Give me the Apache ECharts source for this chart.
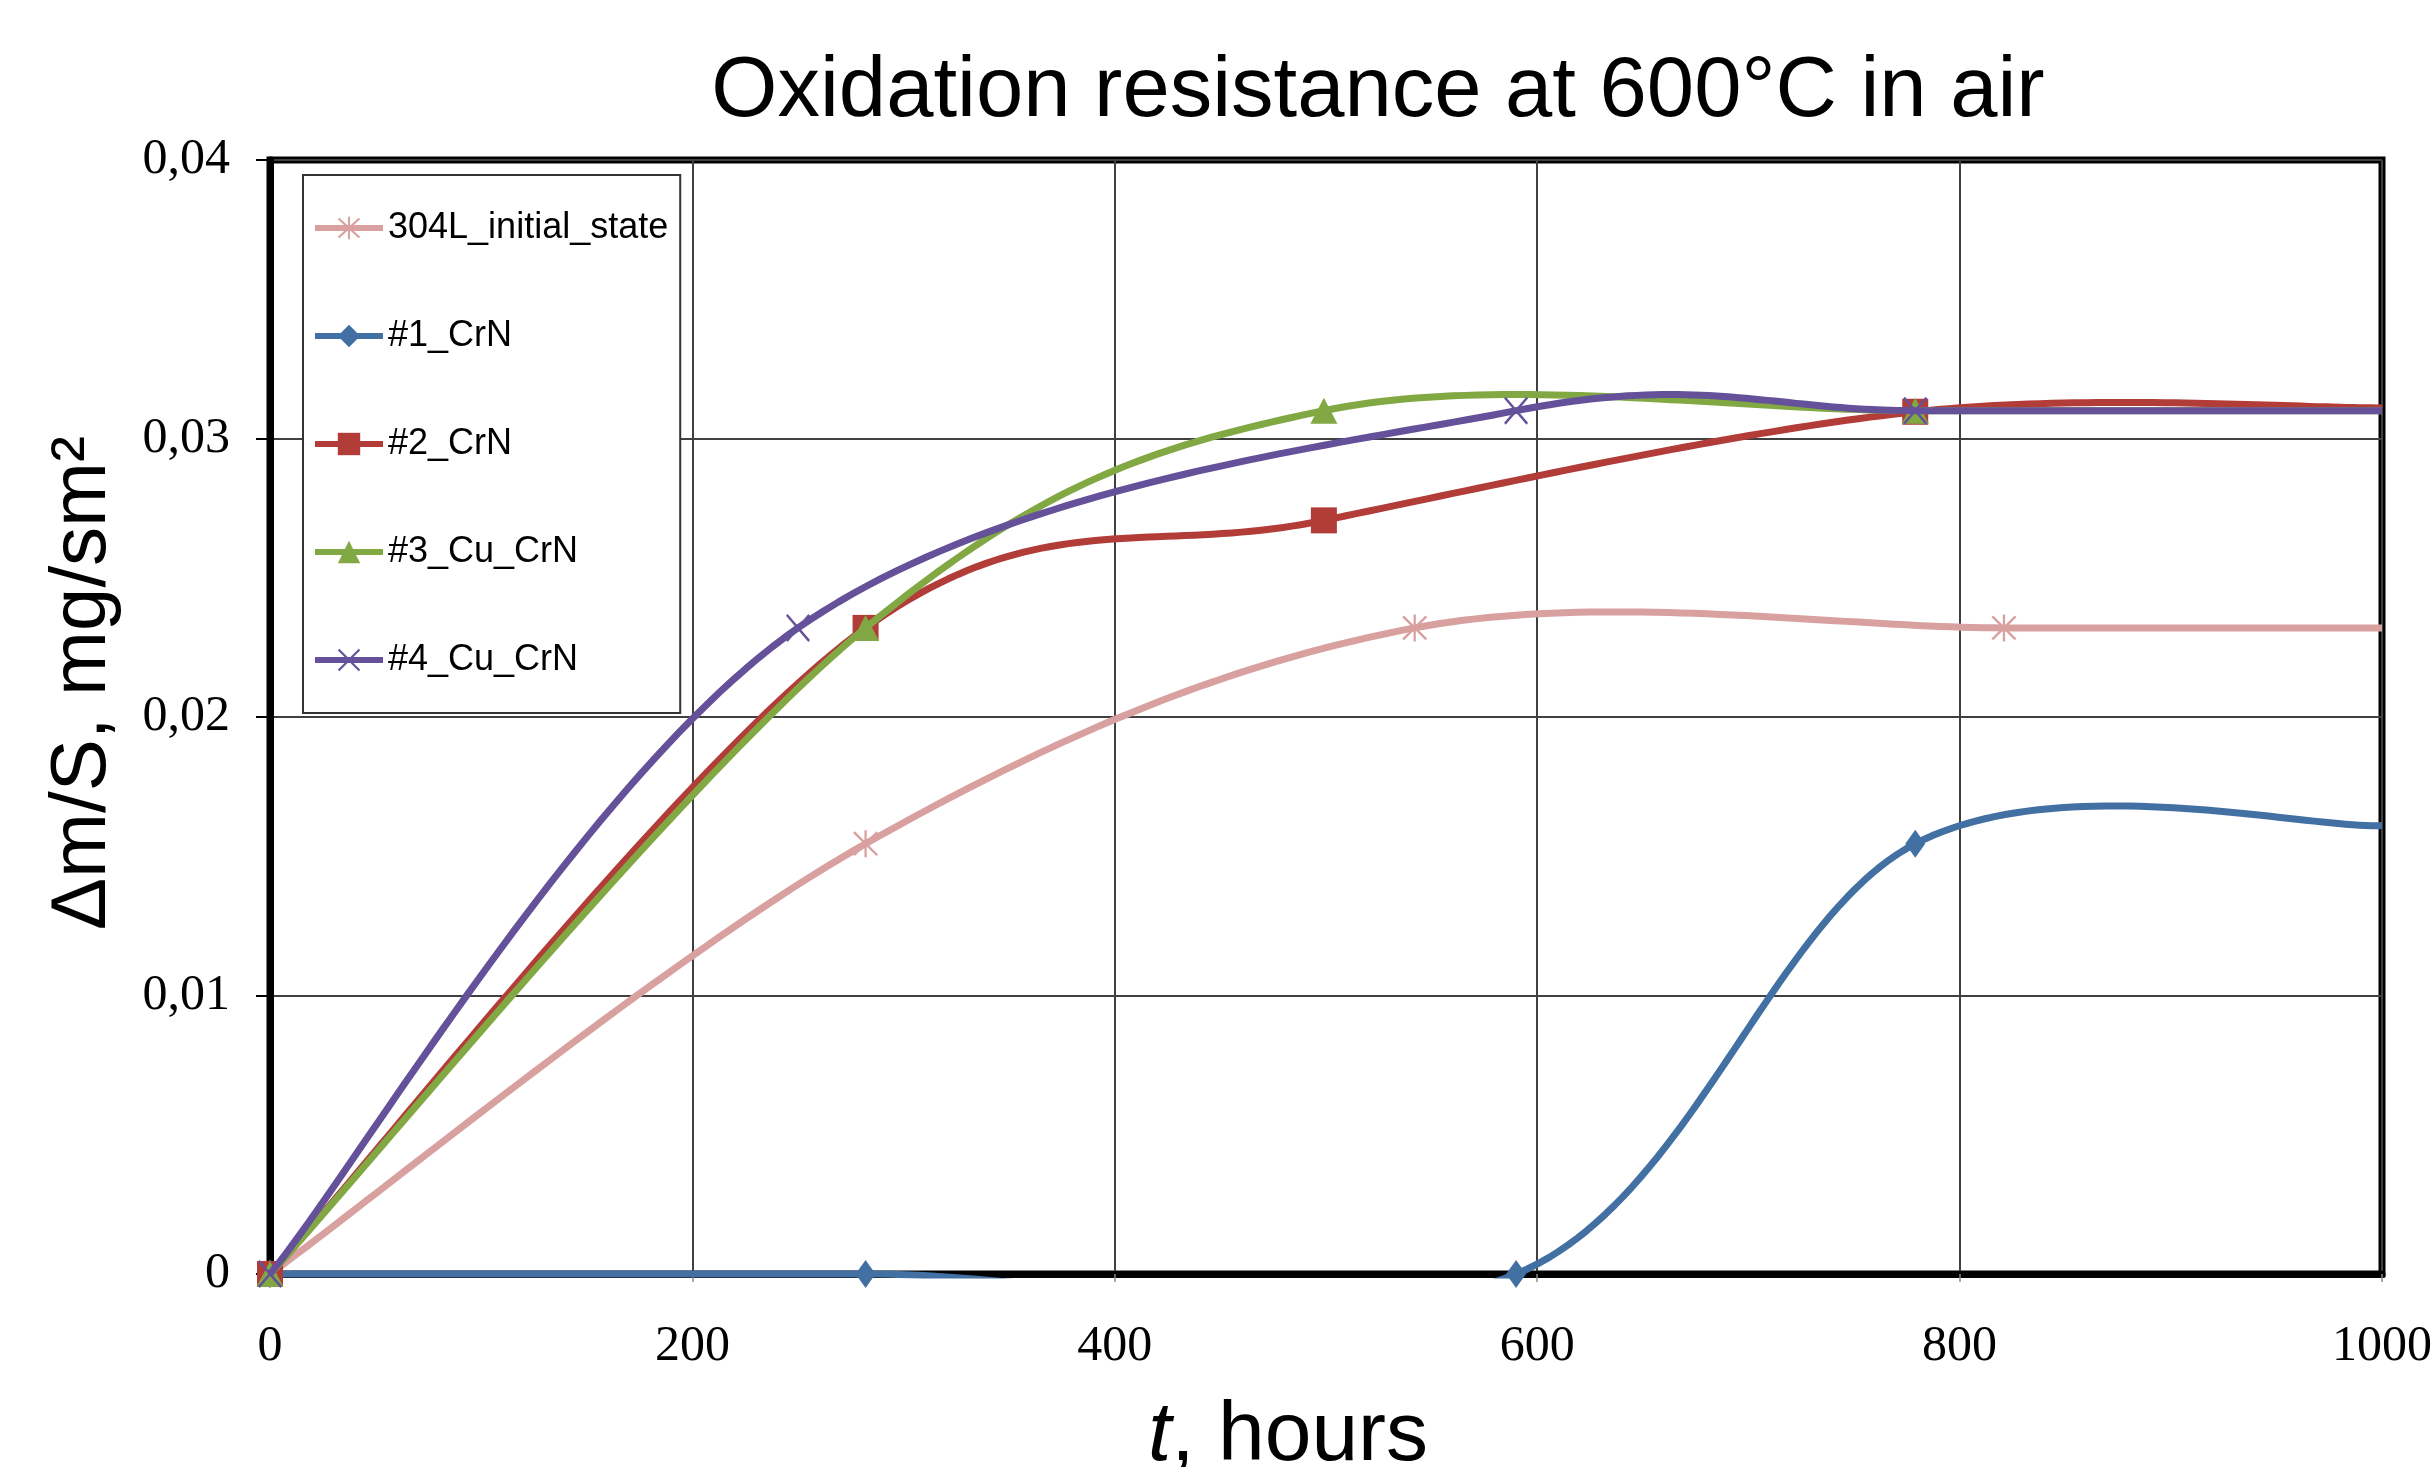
<!DOCTYPE html>
<html>
<head>
<meta charset="utf-8">
<script src="https://cdn.jsdelivr.net/npm/echarts@6/dist/echarts.min.js"></script>
<style>
html,body{margin:0;padding:0;background:#fff;}
#chart{width:2436px;height:1467px;}
</style>
</head>
<body>
<div id="chart"></div>
<script>
// ---- data ----
const seriesNames = ['304L_initial_state', '#1_CrN', '#2_CrN', '#3_Cu_CrN', '#4_Cu_CrN'];
const tPink = [0, 282, 542, 821, 1000];
const vPink = [0, 0.01545, 0.0232, 0.0232, 0.0232];
const tBlue = [0, 282, 590, 779, 1000];
const vBlue = [0, 0, 0, 0.01545, 0.0161];
const tRed = [0, 282, 499, 779, 1000];
const vRed = [0, 0.0232, 0.02706, 0.03096, 0.0311];
const tGreen = [0, 282, 499, 779, 1000];
const vGreen = [0, 0.0232, 0.031, 0.031, 0.031];
const tPurple = [0, 250, 590, 779, 1000];
const vPurple = [0, 0.0232, 0.031, 0.031, 0.031];
const yTickLabels = ['0', '0,01', '0,02', '0,03', '0,04'];
const xTickLabels = ['0', '200', '400', '600', '800', '1000'];

// ---- styles ----
const colors = ['#D9A0A0', '#4370A3', '#B23C38', '#82A844', '#65519A'];
const asterisk = 'path://M11,0 L13,0 L13,24 L11,24 Z M1,2.5 L2.5,1 L23,21.5 L21.5,23 Z M21.5,1 L23,2.5 L2.5,23 L1,21.5 Z';
const xmark = 'path://M1,2.5 L2.5,1 L23,21.5 L21.5,23 Z M21.5,1 L23,2.5 L2.5,23 L1,21.5 Z';
const symbols = [asterisk, 'diamond', 'rect', 'triangle', xmark];
const symbolSizes = [[25, 27], [20, 28], [26, 26], [27, 26], [24, 28]];
const LINE_W = 7;
const sans = '"Liberation Sans", Arial, sans-serif';
const serif = '"Liberation Serif", "Times New Roman", serif';

const allT = [tPink, tBlue, tRed, tGreen, tPurple];
const allV = [vPink, vBlue, vRed, vGreen, vPurple];

function pointsOf(k) { return allT[k].map((t, i) => [t, allV[k][i]]); }

// Smooth curve (Catmull-Rom style, like a spreadsheet "smoothed line"), drawn in pixel space via the axes.
function curveSeries(k) {
  return {
    type: 'custom',
    name: seriesNames[k] + ' (curve)',
    coordinateSystem: 'cartesian2d',
    data: pointsOf(k),
    encode: { x: 0, y: 1 },
    silent: true,
    z: 2 + 2 * k,
    renderItem: function (params, api) {
      if (params.dataIndexInside !== 0) return null;
      const n = params.dataInsideLength;
      const p = [];
      for (let i = 0; i < n; i++) p.push(api.coord([api.value(0, i), api.value(1, i)]));
      const out = [p[0]];
      for (let i = 0; i < n - 1; i++) {
        const p0 = p[i - 1] || p[i], p1 = p[i], p2 = p[i + 1], p3 = p[i + 2] || p[i + 1];
        const c1 = [p1[0] + (p2[0] - p0[0]) / 6, p1[1] + (p2[1] - p0[1]) / 6];
        const c2 = [p2[0] - (p3[0] - p1[0]) / 6, p2[1] - (p3[1] - p1[1]) / 6];
        const steps = 48;
        for (let s = 1; s <= steps; s++) {
          const t = s / steps, u = 1 - t;
          const a = u * u * u, b = 3 * u * u * t, c = 3 * u * t * t, d = t * t * t;
          out.push([a * p1[0] + b * c1[0] + c * c2[0] + d * p2[0],
                    a * p1[1] + b * c1[1] + c * c2[1] + d * p2[1]]);
        }
      }
      const cs = params.coordSys;
      const m = LINE_W / 2 + 1;
      return {
        type: 'group',
        clipPath: { type: 'rect', shape: { x: cs.x - m, y: cs.y - m, width: cs.width + 2 * m, height: cs.height + 2 * m } },
        children: [{
          type: 'polyline',
          shape: { points: out },
          style: { stroke: colors[k], lineWidth: LINE_W, fill: null, lineJoin: 'round', lineCap: 'butt' }
        }]
      };
    }
  };
}

function markerSeries(k) {
  return {
    name: seriesNames[k],
    type: 'line',
    data: pointsOf(k).map((pt, i, arr) => {
      const item = { value: pt };
      if (i === arr.length - 1) item.symbol = 'none';
      return item;
    }),
    symbol: symbols[k],
    symbolSize: symbolSizes[k],
    color: colors[k],
    lineStyle: { width: LINE_W, color: colors[k], opacity: 0 },
    itemStyle: { color: colors[k] },
    z: 3 + 2 * k
  };
}

const series = [];
for (let k = 0; k < seriesNames.length; k++) {
  series.push(curveSeries(k));
  series.push(markerSeries(k));
}

const chart = echarts.init(document.getElementById('chart'), null, { renderer: 'canvas' });
chart.setOption({
  backgroundColor: '#ffffff',
  animation: false,
  title: {
    text: 'Oxidation resistance at 600°C in air',
    left: 1373,
    top: 45,
    textAlign: 'center',
    textStyle: { fontFamily: sans, fontSize: 85, fontWeight: 'normal', color: '#000' }
  },
  grid: {
    left: 270, right: 54, top: 160, bottom: 193,
    containLabel: false,
    outerBoundsMode: 'none',
    show: true, borderColor: '#000', borderWidth: 7, backgroundColor: 'transparent'
  },
  legend: {
    orient: 'vertical',
    left: 303, top: 175,
    padding: [35, 12, 35, 9],
    itemGap: 72,
    itemWidth: 68,
    itemHeight: 28,
    backgroundColor: '#fff',
    borderColor: '#333',
    borderWidth: 2,
    borderRadius: 0,
    selectedMode: false,
    lineStyle: { width: 6, opacity: 1 },
    textStyle: { fontFamily: sans, fontSize: 36, color: '#000', lineHeight: 36 },
    data: seriesNames.map((nm, k) => ({ name: nm, lineStyle: { width: 6, opacity: 1, color: colors[k] } }))
  },
  xAxis: {
    type: 'value',
    min: 0, max: 1000, interval: 200,
    name: '{i|t}, hours',
    nameLocation: 'middle',
    nameGap: 121,
    nameTextStyle: {
      fontFamily: sans, fontSize: 84, color: '#000',
      padding: [0, 76, 0, 0],
      rich: { i: { fontFamily: sans, fontSize: 84, fontStyle: 'italic', color: '#000' } }
    },
    axisLine: { show: true, onZero: false, lineStyle: { color: '#000', width: 7 } },
    axisTick: { show: true, length: 8, lineStyle: { color: '#888', width: 1.5 } },
    axisLabel: {
      margin: 48, fontFamily: serif, fontSize: 50, color: '#000',
      formatter: (v) => xTickLabels[Math.round(v / 200)]
    },
    splitLine: { show: true, lineStyle: { color: '#404040', width: 2 } }
  },
  yAxis: {
    type: 'value',
    min: 0, max: 0.04, interval: 0.01,
    name: 'Δm/S, mg/sm²',
    nameLocation: 'middle',
    nameRotate: 90,
    nameGap: 148,
    nameTextStyle: { fontFamily: sans, fontSize: 78, color: '#000', padding: [0, 0, 0, 68] },
    axisLine: { show: true, onZero: false, lineStyle: { color: '#000', width: 7 } },
    axisTick: { show: true, inside: false, length: 14, lineStyle: { color: '#000', width: 2 } },
    axisLabel: {
      margin: 40, fontFamily: serif, fontSize: 50, color: '#000',
      formatter: (v) => yTickLabels[Math.round(v / 0.01)]
    },
    splitLine: { show: true, lineStyle: { color: '#404040', width: 2 } }
  },
  series: series
});
</script>
</body>
</html>
